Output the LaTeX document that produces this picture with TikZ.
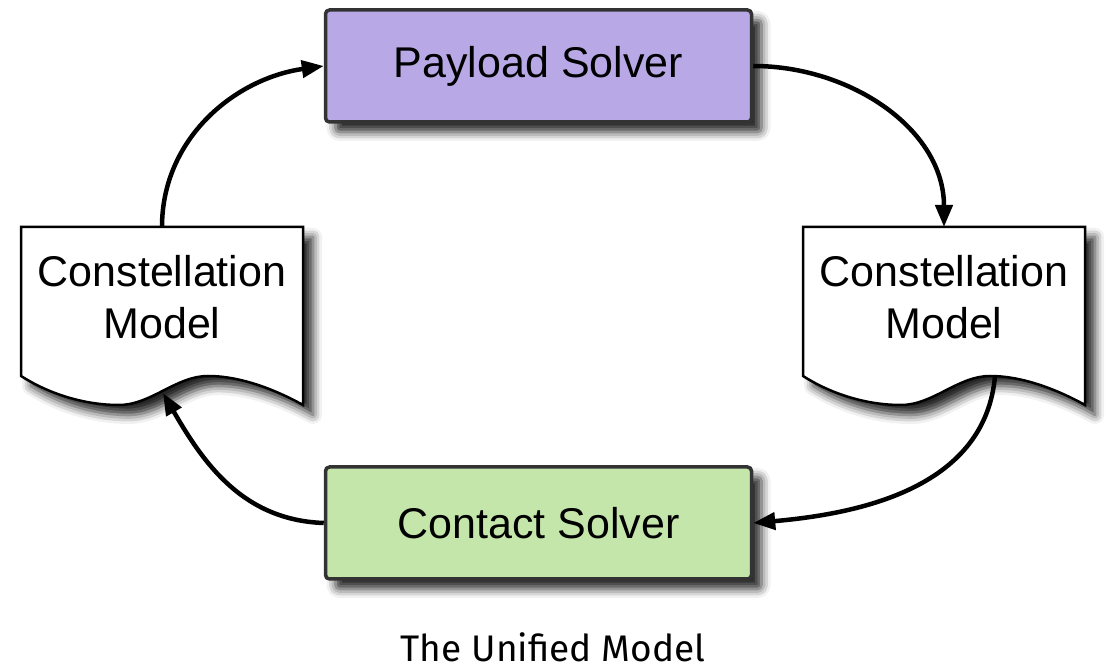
\documentclass[tikz,border=0pt]{standalone}
\usepackage{fontspec}
\setmainfont{Liberation Sans}
\newfontfamily\captionfont{Fira Sans}
\usetikzlibrary{arrows.meta,shadows.blur,backgrounds}
\definecolor{payloadfill}{HTML}{B8A9E6}
\definecolor{contactfill}{HTML}{C5E6AA}
\definecolor{boxline}{HTML}{333333}

\begin{document}
\begin{tikzpicture}[x=1pt, y=1pt] %Unified model
			\tikzstyle{solverbox} = [rectangle, draw=boxline, line width=3.5pt, rounded corners=4pt, minimum width=426pt, minimum height=112pt, font=\fontsize{43}{52}\selectfont, blur shadow={shadow xshift=10pt, shadow yshift=-10pt, shadow blur radius=9pt, shadow opacity=85}]
			\tikzstyle{docnode} = [rectangle, anchor=north, outer sep=0pt, minimum width=282pt, minimum height=140pt, align=center, font=\fontsize{43}{52}\selectfont]
			\tikzstyle{docline} = [draw=black, line width=2.5pt, fill=white, blur shadow={shadow xshift=10pt, shadow yshift=-10pt, shadow blur radius=9pt, shadow opacity=85}]
			\tikzstyle{flow} = [line width=4.5pt, -{Triangle[length=22pt, width=17pt]}]
			\useasboundingbox (0,0) rectangle (1112,670);
			\node[solverbox, fill=payloadfill] (payload) at (538.5,604) {Payload Solver};
			\node[solverbox, fill=contactfill] (contact) at (538.5,147) {Contact Solver};
			\node[docnode] (cmL) at (162,443) {Constellation\\Model};
			\node[docnode] (cmR) at (944,443) {Constellation\\Model};
			\foreach \name in {cmL, cmR}
			{
				\begin{scope}[on background layer, shift={(\name.north west)}]
					\draw[docline] (0,0) -- (282,0) -- (282,-178) .. controls (255,-163) and (220,-149) .. (187,-149) .. controls (155,-149) and (130,-178) .. (98,-178) .. controls (60,-178) and (25,-165) .. (0,-149) -- cycle;
					\coordinate (\name-in) at (142,-166);
					\coordinate (\name-out) at (192,-149);
				\end{scope}
			}
			\draw[flow] (cmL.north) to[out=90, in=188] (payload.west);
			\draw[flow] (payload.east) to[out=0, in=90] (cmR.north);
			\draw[flow] (cmR-out) to[out=-95, in=5] (contact.east);
			\draw[flow] (contact.west) to[out=178, in=-60] (cmL-in);
			\node[anchor=base, inner sep=0pt, font=\captionfont\fontsize{37}{44}\selectfont] (caption) at (553,9) {The Unified Model};
		\end{tikzpicture}
\end{document}
